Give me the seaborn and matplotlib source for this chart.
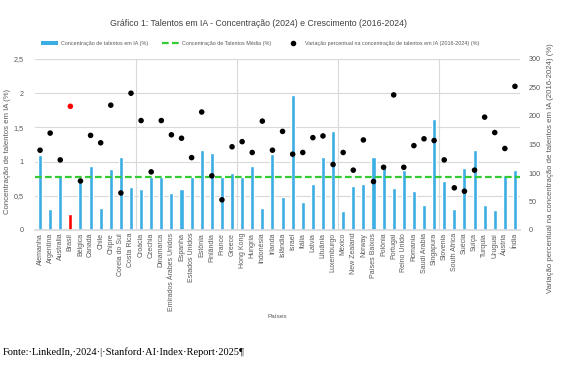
import matplotlib
matplotlib.use("Agg")
import matplotlib.pyplot as plt
import seaborn as sns
import numpy as np
import pandas as pd
from matplotlib.lines import Line2D
from matplotlib.patches import Patch

paises = ["Alemanha", "Argentina", "Australia", "Brasil", "Bélgica", "Canadá", "Chile", "Chipre",
          "Coreia do Sul", "Costa Rica", "Croácia", "Czechia", "Dinamarca", "Emirados Árabes Unidos",
          "Espanha", "Estados Unidos", "Estônia", "Finlândia", "France", "Greece", "Hong Kong",
          "Hungria", "Indonésia", "Irlanda", "Islândia", "Israel", "Itália", "Latvia", "Lituânia",
          "Luxemburgo", "México", "New Zealand", "Norway", "Países Baixos", "Polônia", "Portugal",
          "Reino Unido", "Romania", "Saudi Arabia", "Singapura", "Slovenia", "South Africa",
          "Suécia", "Suíça", "Turquia", "Uruguai", "Áustria", "Índia"]
concentracao = [1.09, 0.30, 0.80, 0.23, 0.70, 0.93, 0.32, 0.89, 1.07, 0.63, 0.60, 0.78, 0.78, 0.54,
                0.60, 0.78, 1.17, 1.13, 0.78, 0.83, 0.77, 0.93, 0.32, 1.11, 0.48, 1.98, 0.41, 0.67,
                1.06, 1.45, 0.28, 0.64, 0.67, 1.07, 0.92, 0.61, 0.87, 0.57, 0.37, 1.63, 0.72, 0.31,
                0.90, 1.17, 0.37, 0.29, 0.80, 0.87]
variacao = [140, 170, 123, 217, 86, 166, 153, 219, 65, 240, 192, 102, 192, 167, 161, 127, 207, 95,
            53, 146, 155, 136, 191, 140, 173, 133, 136, 162, 165, 115, 136, 105, 158, 85, 110, 237,
            110, 148, 160, 157, 123, 74, 68, 105, 198, 171, 143, 252]
media = 0.78
destaque = "Brasil"
yticks_esq = [0, 0.5, 1, 1.5, 2, 2.5]
yticklabels_esq = ["0", "0,5", "1", "1,5", "2", "2,5"]
yticks_dir = [0, 50, 100, 150, 200, 250, 300]

azul = "#3BAEE3"
vermelho = "#FF0000"
verde = "#33CC33"
cinza = "#595959"

sns.set_theme(style="white")
plt.rcParams['font.family'] = ['Liberation Sans', 'DejaVu Sans']

df = pd.DataFrame({"pais": paises, "conc": concentracao, "var": variacao})
df["idx"] = np.arange(len(df))
cores = {p: (vermelho if p == destaque else azul) for p in paises}
cores_pt = {p: (vermelho if p == destaque else "black") for p in paises}

fig = plt.figure(figsize=(5.64, 3.65), dpi=100)
ax = fig.add_axes([35/564, 1 - 230/365, 485/564, 171/365])

sns.barplot(data=df, x="pais", y="conc", hue="pais", palette=cores, width=0.4,
            legend=False, ax=ax, saturation=1, zorder=2)
ax.axhline(media, color=verde, linestyle=(0, (3, 1.5)), linewidth=1.6, zorder=4)
ax.set_ylim(0, 2.5)
ax.set_xlim(-0.5, len(paises) - 0.5)
ax.set_yticks(yticks_esq)
ax.set_yticklabels(yticklabels_esq)
ax.yaxis.grid(True, color="#D9D9D9", linewidth=0.8)
ax.set_axisbelow(True)
for i in range(10, len(paises), 10):
    ax.axvline(i - 0.5, color="#D9D9D9", linewidth=0.8, zorder=0)
for s in ["top", "right", "left"]:
    ax.spines[s].set_visible(False)
ax.spines["bottom"].set_color("#D9D9D9")
ax.tick_params(axis="x", labelrotation=90, labelsize=5.0, colors=cinza, length=0, pad=2)
ax.tick_params(axis="y", labelsize=5.2, colors=cinza, length=0, pad=8)
ax.set_xlabel("Países", fontsize=4.6, color=cinza, labelpad=2)
ax.set_ylabel("Concentração de talentos em IA (%)", fontsize=5.6, color=cinza)
ax.yaxis.set_label_coords(-24/485, 0.46)

ax2 = ax.twinx()
sns.scatterplot(data=df, x="idx", y="var", hue="pais", palette=cores_pt,
                legend=False, s=16, edgecolor="none", ax=ax2, zorder=5)
ax2.set_ylim(0, 300)
ax2.set_yticks(yticks_dir)
ax2.set_xlim(-0.5, len(paises) - 0.5)
for s in ["top", "right", "left", "bottom"]:
    ax2.spines[s].set_visible(False)
ax2.tick_params(axis="y", labelsize=5.2, colors=cinza, length=0, pad=6)
ax2.set_ylabel("Variação percentual na concentração de talentos em IA (2016-2024) (%)",
               fontsize=5.6, color=cinza)
ax2.yaxis.set_label_coords(1 + 27/485, 0.36)
ax2.set_xlabel("")

fig.text(258/564, 1 - 24/365, "Gráfico 1: Talentos em IA - Concentração (2024) e Crescimento (2016-2024)",
         ha="center", va="center", fontsize=6.3, color="#404040")

handles = [Patch(facecolor=azul, edgecolor="none"),
           Line2D([0], [0], color=verde, linestyle=(0, (3, 1.5)), linewidth=1.6),
           Line2D([0], [0], marker="o", color="none", markerfacecolor="black",
                  markeredgecolor="none", markersize=4)]
labels = ["Concentração de talentos em IA (%)", "Concentração de Talentos Média (%)",
          "Variação percentual na concentração de talentos em IA (2016-2024) (%)"]
fig.legend(handles, labels, loc="center", bbox_to_anchor=(260/564, 1 - 43/365), ncol=3,
           frameon=False, fontsize=3.85, handlelength=3.2, columnspacing=2.6,
           handletextpad=0.5, labelcolor=cinza)

fig.text(3/564, 1 - 352/365, "Fonte:·LinkedIn,·2024·|·Stanford·AI·Index·Report·2025¶",
         ha="left", va="center", fontsize=7.5, family=["Liberation Serif", "DejaVu Serif"],
         color="black")

fig.savefig("out.png", dpi=100)
